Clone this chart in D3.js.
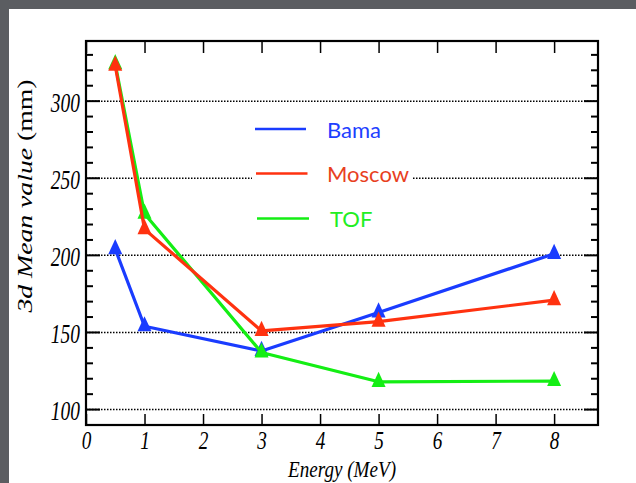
<!DOCTYPE html>
<html>
<head>
<meta charset="utf-8">
<script src="https://cdn.jsdelivr.net/npm/d3@7"></script>
<style>
  html, body { margin: 0; padding: 0; background: #5b5d61; }
  svg { display: block; }
</style>
</head>
<body>
<svg id="chart" width="636" height="483"></svg>
<script>
// ---- data ----
const energies = [0.5, 1, 3, 5, 8];
const bama   = [204, 154, 138, 163, 201];
const moscow = [323, 217, 151, 157, 171];
const tof    = [324, 227, 137, 118, 118.5];
const seriesNames = ["Bama", "Moscow", "TOF"];
const seriesColors = ["#1a3cff", "#ff3210", "#14ee14"];
const legendTextColors = ["#1e40ff", "#e8401e", "#22ee22"];
const xTicks = [0, 1, 2, 3, 4, 5, 6, 7, 8];
const yMajorTicks = [100, 150, 200, 250, 300];
const yMinorTicks = d3.range(90, 340, 10);

const svg = d3.select("#chart");
const W = 636, H = 483;

// background and white panel
svg.append("rect").attr("width", W).attr("height", H).attr("fill", "#5b5d61");
svg.append("rect").attr("x", 9).attr("y", 9).attr("width", W - 9).attr("height", H - 9).attr("fill", "#ffffff");

const L = 86, R = 598, T = 41, B = 425;
const x = d3.scaleLinear().domain([0, 8.75]).range([L, R]);
const y = d3.scaleLinear().domain([90, 339]).range([B, T]);

// dotted gridlines
svg.append("g").selectAll("line").data(yMajorTicks).join("line")
  .attr("x1", L).attr("x2", R)
  .attr("y1", d => y(d)).attr("y2", d => y(d))
  .attr("stroke", "#000").attr("stroke-width", 1.5)
  .attr("stroke-dasharray", "1.5,1.5");

// y minor/major ticks both sides
const yt = svg.append("g");
yt.selectAll("line.l").data(yMinorTicks).join("line")
  .attr("x1", L).attr("x2", d => L + (d % 50 === 0 ? 14 : 7))
  .attr("y1", d => y(d)).attr("y2", d => y(d))
  .attr("stroke", "#000").attr("stroke-width", 2);
yt.selectAll("line.r").data(yMinorTicks).join("line")
  .attr("x1", R).attr("x2", d => R - (d % 50 === 0 ? 14 : 7))
  .attr("y1", d => y(d)).attr("y2", d => y(d))
  .attr("stroke", "#000").attr("stroke-width", 2);

// x axis bottom (ticks inward) with labels
const xAxisB = svg.append("g").attr("transform", `translate(0,${B})`)
  .call(d3.axisBottom(x).tickValues(xTicks).tickSize(-11).tickSizeOuter(0).tickPadding(-2).tickFormat(d3.format("d")));
xAxisB.select(".domain").remove();
xAxisB.selectAll(".tick line").attr("stroke", "#000").attr("stroke-width", 1.5);
xAxisB.selectAll(".tick text")
  .attr("y", 0).attr("dy", null)
  .attr("transform", "translate(0,24) scale(0.74,1)")
  .attr("font-family", "'Liberation Serif', 'Times New Roman', serif")
  .attr("font-style", "italic").attr("font-size", 26).attr("fill", "#000");

// x axis top ticks
const xAxisT = svg.append("g").attr("transform", `translate(0,${T})`)
  .call(d3.axisTop(x).tickValues(xTicks).tickSize(-12).tickSizeOuter(0).tickFormat(""));
xAxisT.select(".domain").remove();
xAxisT.selectAll(".tick line").attr("stroke", "#000").attr("stroke-width", 1.5);

// y axis labels
const yAxisL = svg.append("g").attr("transform", `translate(${L},0)`)
  .call(d3.axisLeft(y).tickValues(yMajorTicks).tickSize(0).tickFormat(d3.format("d")));
yAxisL.select(".domain").remove();
yAxisL.selectAll(".tick text")
  .attr("x", 0).attr("dy", null)
  .attr("transform", "translate(-6,10) scale(0.72,1)")
  .attr("font-family", "'Liberation Serif', 'Times New Roman', serif")
  .attr("font-style", "italic").attr("font-size", 27).attr("fill", "#000");

// frame
svg.append("rect").attr("x", L).attr("y", T).attr("width", R - L).attr("height", B - T)
  .attr("fill", "none").attr("stroke", "#000").attr("stroke-width", 2.2);

// legend box (white, hides gridline behind it)
svg.append("rect").attr("x", 252).attr("y", 106).attr("width", 161).attr("height", 138).attr("fill", "#fff");

// series
const seriesData = [bama, tof, moscow];
const seriesIdx = [0, 2, 1];
const line = d3.line().x(d => x(d[0])).y(d => y(d[1]));
const tri = d3.symbol().type(d3.symbolTriangle).size(85);
seriesIdx.forEach((si, k) => {
  const vals = seriesData[k];
  const pts = energies.map((e, i) => [e, vals[i]]);
  const g = svg.append("g");
  g.append("path").datum(pts).attr("d", line)
    .attr("fill", "none").attr("stroke", seriesColors[si]).attr("stroke-width", 3.2)
    .attr("stroke-linejoin", "round");
  g.selectAll("path.m").data(pts).join("path").attr("class", "m")
    .attr("d", tri)
    .attr("transform", d => `translate(${x(d[0])},${y(d[1])}) scale(1,1.25)`)
    .attr("fill", seriesColors[si]);
});

// legend
const legY = [129, 173.5, 218.5];
const lg = svg.append("g");
seriesNames.forEach((n, i) => {
  lg.append("line").attr("x1", 255 + i).attr("x2", 306 + i * 1.5)
    .attr("y1", legY[i]).attr("y2", legY[i])
    .attr("stroke", seriesColors[i]).attr("stroke-width", 2.6);
  lg.append("text").attr("x", 327 + (i === 2 ? 3 : 0)).attr("y", legY[i] + 8.5)
    .attr("font-family", "Lato, 'Open Sans', sans-serif").attr("font-size", 22)
    .attr("fill", legendTextColors[i]).text(n);
});

// axis titles
svg.append("text")
  .attr("x", 342).attr("y", 477).attr("text-anchor", "middle")
  .attr("font-family", "'Liberation Serif', 'Times New Roman', serif")
  .attr("font-style", "italic").attr("font-size", 24)
  .attr("transform", "translate(342,0) scale(0.75,1) translate(-342,0)")
  .attr("textLength", 144).attr("lengthAdjust", "spacingAndGlyphs")
  .attr("fill", "#000")
  .text("Energy (MeV)");

const yt2 = svg.append("text")
  .attr("transform", "translate(32,196) rotate(-90)")
  .attr("text-anchor", "middle")
  .attr("font-family", "'Liberation Serif', 'Times New Roman', serif")
  .attr("font-size", 22).attr("fill", "#000")
  .attr("textLength", 233).attr("lengthAdjust", "spacingAndGlyphs");
yt2.append("tspan").attr("font-style", "italic").text("3d Mean value ");
yt2.append("tspan").text("(mm)");
</script>
</body>
</html>
